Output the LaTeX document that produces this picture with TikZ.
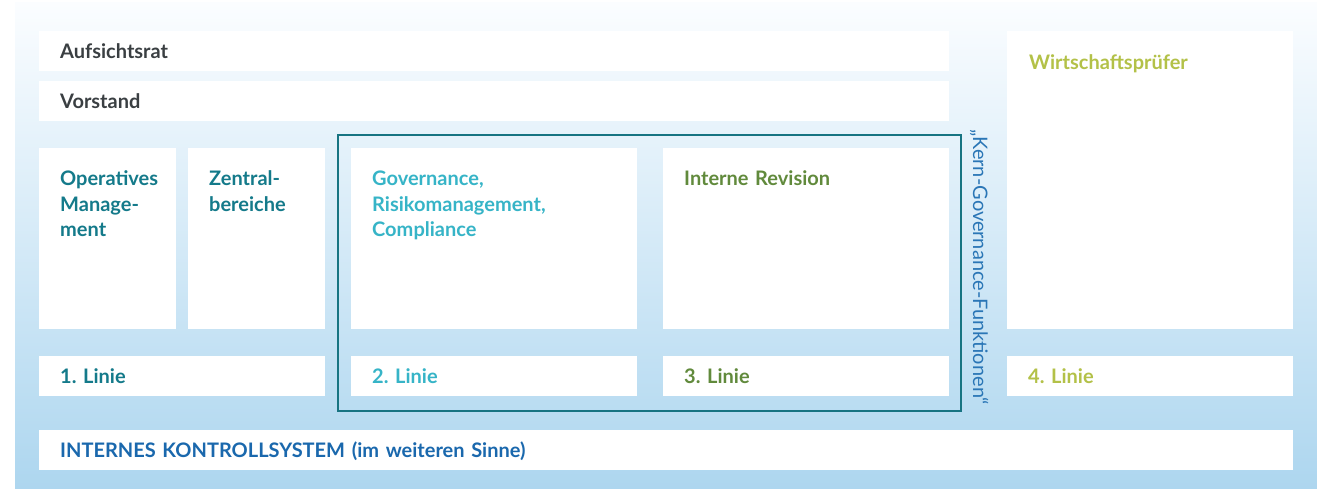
\documentclass[tikz,border=0pt]{standalone}
\usepackage{fontspec}
\setmainfont{Lato}
\frenchspacing
\usetikzlibrary{positioning}

\definecolor{panelTop}{HTML}{FBFDFF}
\definecolor{panelMid}{HTML}{DBEBF8}
\definecolor{panelBot}{HTML}{ADD6EF}
\definecolor{txtGray}{HTML}{3A3F42}
\definecolor{txtTeal}{HTML}{147A8A}
\definecolor{txtCyan}{HTML}{36B4C7}
\definecolor{txtOlive}{HTML}{618A3C}
\definecolor{txtLime}{HTML}{B3C148}
\definecolor{txtBlue}{HTML}{1A68AD}
\definecolor{frameTeal}{HTML}{177482}
\definecolor{kernBlue}{HTML}{2A76B6}

\begin{document}
\begin{tikzpicture}[x=1pt,y=-1pt,
		box/.style={fill=white,inner sep=0pt,anchor=north west},
		wide/.style={box,minimum width=910,minimum height=40},
		tall/.style={box,minimum width=286,minimum height=181},
		half/.style={box,minimum width=137,minimum height=181},
		line/.style={box,minimum width=286,minimum height=40},
		head/.style={font=\bfseries\fontsize{20}{25.5}\selectfont,inner sep=0pt,anchor=base west,text width=260,align=left,xshift=21pt}]
		\useasboundingbox (0,0) rectangle (1317,489);
		% background panel
		\fill[top color=panelTop,middle color=panelMid,bottom color=panelBot] (15,3) rectangle (1317,489);
		% top rows
		\node[wide] (rat) at (39,31) {};
		\node[wide] (vorstand) at (39,81) {};
		\node[head,txtGray,yshift=-27.5pt] at (rat.north west) {Aufsichtsrat};
		\node[head,txtGray,yshift=-27.5pt] at (vorstand.north west) {Vorstand};
		% function boxes
		\node[half] (opm) at (39,148) {};
		\node[half] (zentral) at (188,148) {};
		\node[tall] (gov) at (351,148) {};
		\node[tall] (revision) at (663,148) {};
		\node[box,minimum width=286,minimum height=298] (wp) at (1007,31) {};
		\node[head,txtTeal,yshift=-38pt] at (opm.north west) {Operatives\\Manage-\\ment};
		\node[head,txtTeal,yshift=-38pt] at (zentral.north west) {Zentral-\\bereiche};
		\node[head,txtCyan,yshift=-38pt] at (gov.north west) {Governance,\\Risikomanagement,\\Compliance};
		\node[head,txtOlive,yshift=-38pt] at (revision.north west) {Interne Revision};
		\node[head,txtLime,yshift=-38.5pt,xshift=1pt] at (wp.north west) {Wirtschaftsprüfer};
		% lines of defence
		\node[line] (l1) at (39,356) {};
		\node[line] (l2) at (351,356) {};
		\node[line] (l3) at (663,356) {};
		\node[line] (l4) at (1007,356) {};
		\node[head,txtTeal,yshift=-27pt] at (l1.north west) {1. Linie};
		\node[head,txtCyan,yshift=-27pt] at (l2.north west) {2. Linie};
		\node[head,txtOlive,yshift=-27pt] at (l3.north west) {3. Linie};
		\node[head,txtLime,yshift=-27pt] at (l4.north west) {4. Linie};
		% core governance frame
		\draw[frameTeal,line width=2.5pt] (338,135) rectangle (961,411);
		\node[kernBlue,font=\fontsize{20}{24}\selectfont,inner sep=0pt,rotate=-90,anchor=base west] (kern) at (973,129) {„Kern-Governance-Funktionen“};
		% bottom row
		\node[box,minimum width=1254,minimum height=40] (iks) at (39,430) {};
		\node[head,txtBlue,yshift=-27.5pt,text width=600] at (iks.north west) {INTERNES KONTROLLSYSTEM (im weiteren Sinne)};
\end{tikzpicture}
\end{document}
